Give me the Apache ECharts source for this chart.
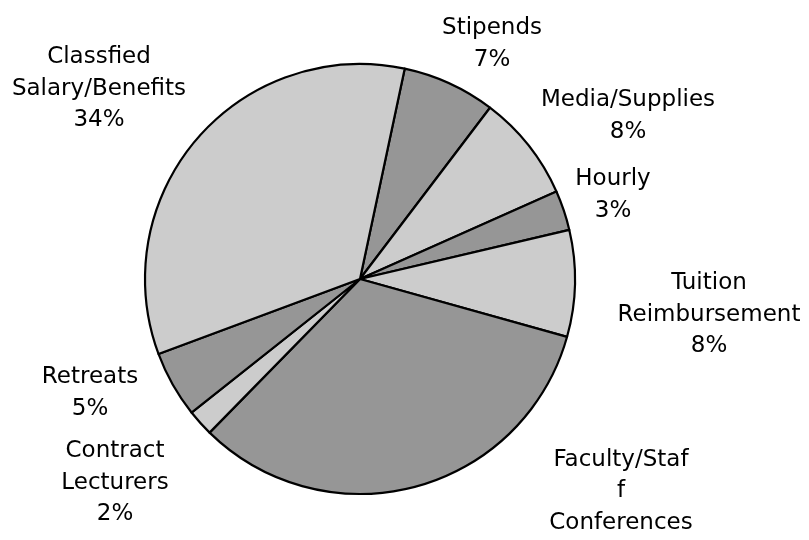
<!DOCTYPE html>
<html>
<head>
<meta charset="utf-8">
<script src="https://cdn.jsdelivr.net/npm/echarts@6/dist/echarts.min.js"></script>
<style>
  html, body { margin: 0; padding: 0; background: #fff; }
  #chart { width: 809px; height: 540px; }
</style>
</head>
<body>
<div id="chart"></div>
<script>
// slices, clockwise from the top
var names = ['Stipends', 'Media/Supplies', 'Hourly', 'Tuition\nReimbursement',
  'Faculty/Staf\nf\nConferences', 'Contract\nLecturers', 'Retreats', 'Classfied\nSalary/Benefits'];
var values = [7, 8, 3, 8, 33, 2, 5, 34];

// where each label block sits (centre of the text)
var labelSpots = [[492, 44], [628, 116], [613, 195], [709, 315],
  [621, 507], [115, 483], [90, 393], [99, 89]];

var light = '#cccccc', dark = '#969696';

var chart = echarts.init(document.getElementById('chart'));
var pieData = [];
for (var i = 0; i < names.length; i++) {
  pieData.push({
    name: names[i],
    value: values[i],
    itemStyle: { color: i % 2 === 0 ? dark : light }
  });
}

chart.setOption({
  animation: false,
  series: [{
    type: 'pie',
    center: [360, 279],
    radius: 215,
    startAngle: 78,
    clockwise: true,
    avoidLabelOverlap: false,
    data: pieData,
    itemStyle: { borderColor: '#000', borderWidth: 2.2 },
    label: {
      show: true,
      position: 'outside',
      formatter: function (p) { return p.name + '\n' + p.value + '%'; },
      fontFamily: 'DejaVu Sans',
      fontSize: 23,
      lineHeight: 31.5,
      color: '#000',
      align: 'center'
    },
    labelLine: { show: false },
    emphasis: { disabled: true },
    labelLayout: function (params) {
      var s = labelSpots[params.dataIndex];
      return { x: s[0], y: s[1], align: 'center', verticalAlign: 'middle' };
    }
  }]
});
</script>
</body>
</html>
